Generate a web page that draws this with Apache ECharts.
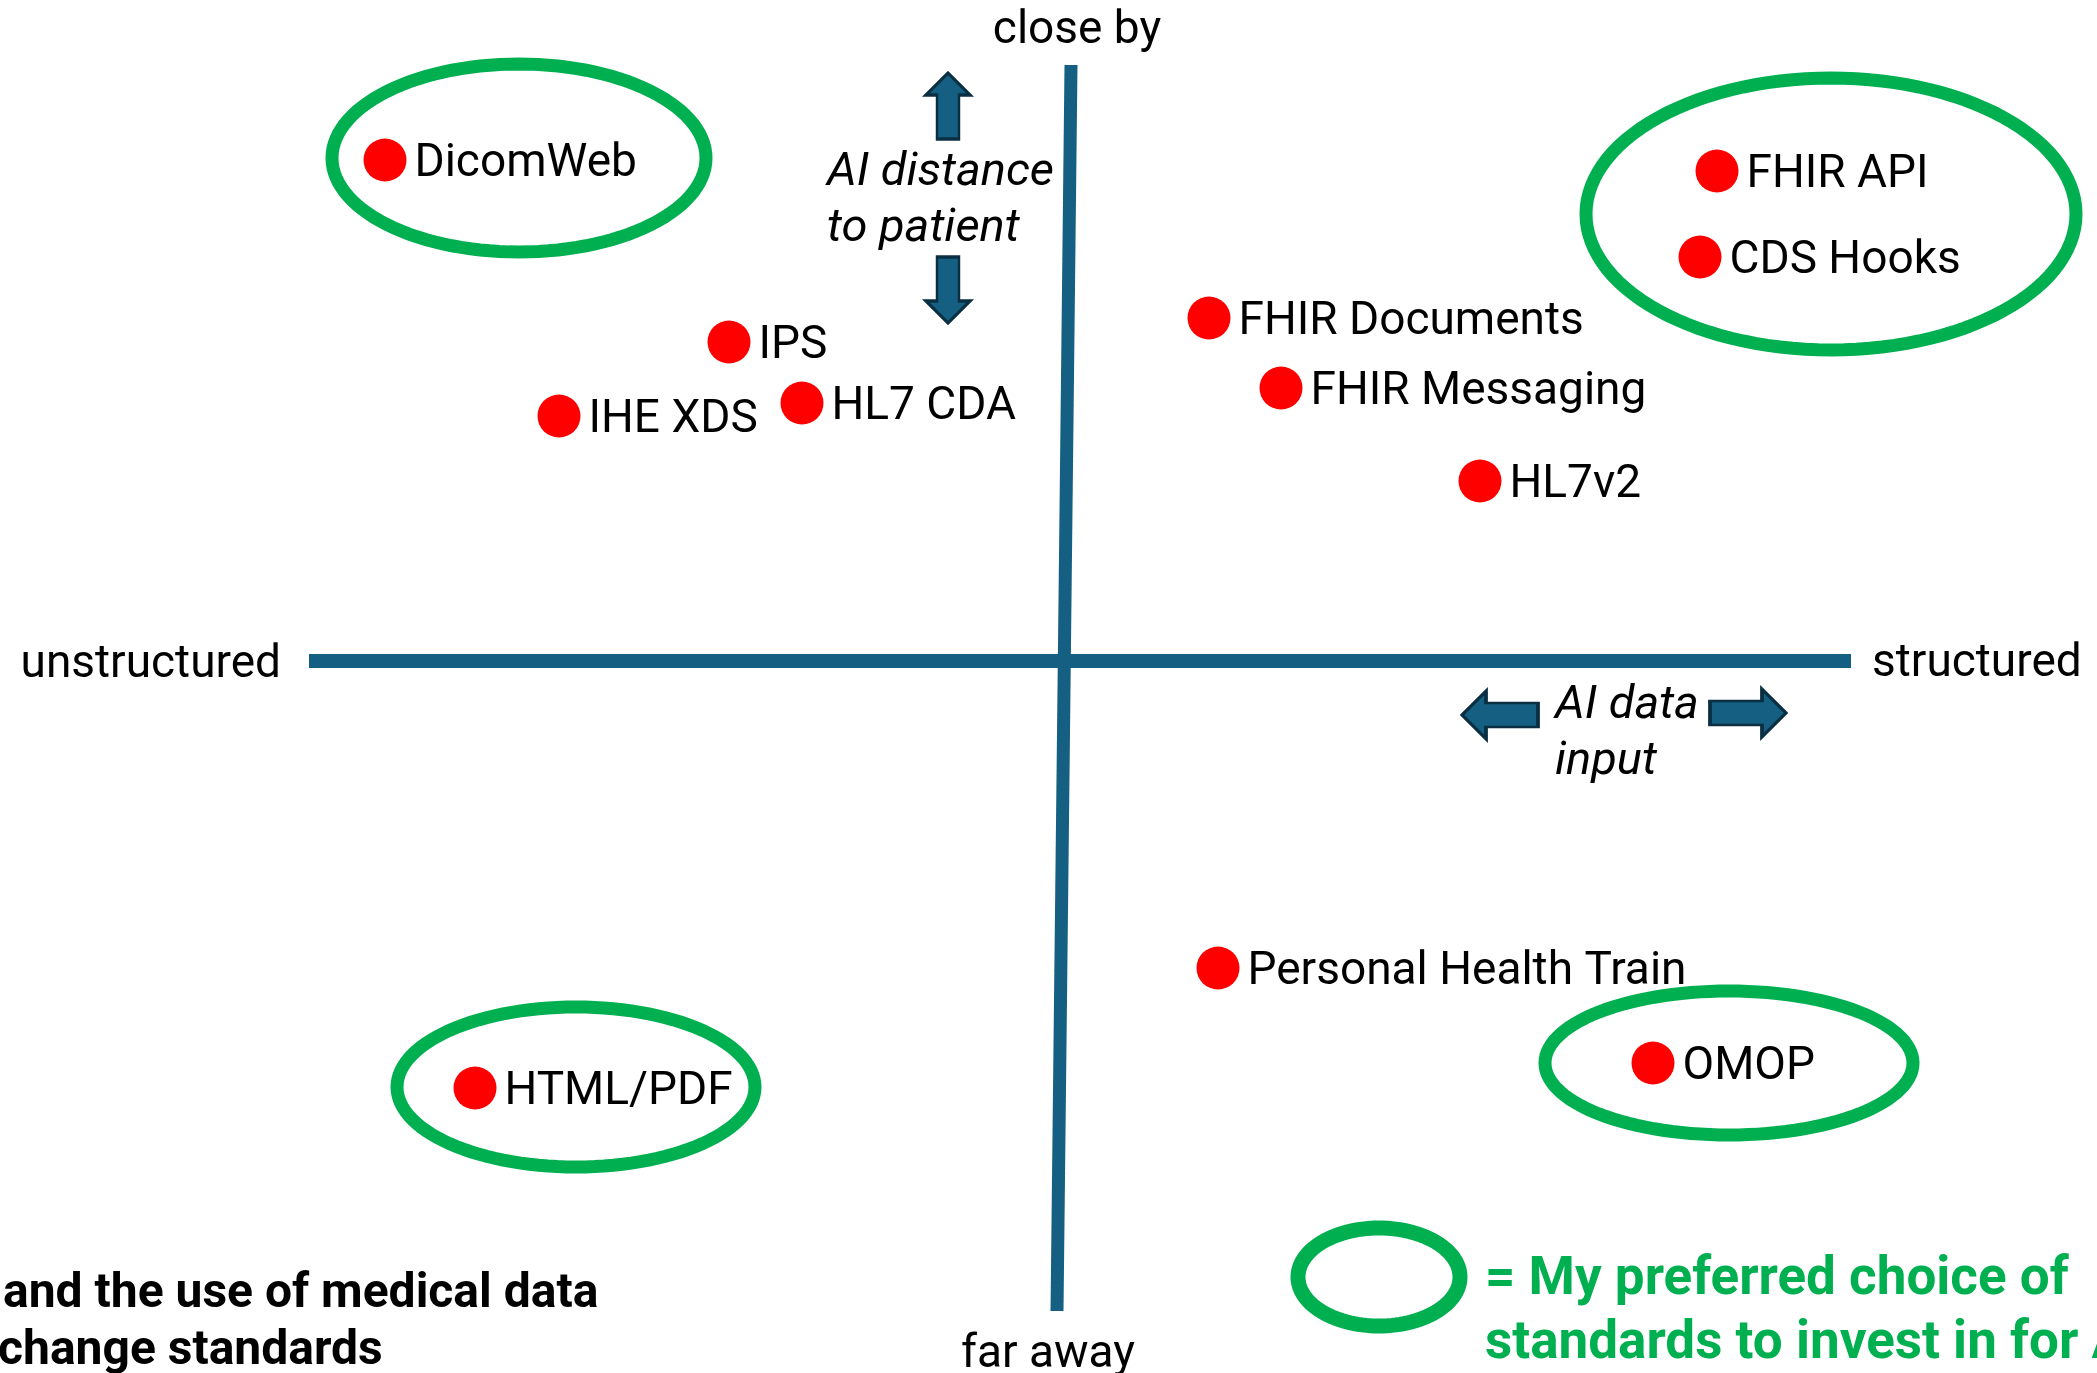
<!DOCTYPE html>
<html>
<head>
<meta charset="utf-8">
<script src="https://cdn.jsdelivr.net/npm/echarts@6/dist/echarts.min.js"></script>
<style>
  html, body { margin: 0; padding: 0; background: #fff; }
  #main { width: 2097px; height: 1373px; }
</style>
</head>
<body>
<div id="main"></div>
<script>
// 数据：以两轴交点为原点，向右为 structured，向上为 close by
var standards = [
  ['DicomWeb', -679, 501],
  ['FHIR API', 653, 490],
  ['CDS Hooks', 636, 404],
  ['FHIR Documents', 145, 343],
  ['FHIR Messaging', 217, 273],
  ['HL7v2', 416, 180],
  ['IPS', -335, 319],
  ['IHE XDS', -505, 245],
  ['HL7 CDA', -262, 258],
  ['Personal Health Train', 154, -307],
  ['OMOP', 589, -402],
  ['HTML/PDF', -589, -427]
];
// 推荐的圈：中心x, 中心y, 半径x, 半径y
var preferred = [
  [-545, 503, 187, 94],
  [767, 447, 245, 136],
  [-488, -426, 179, 80],
  [665, -402, 184, 72]
];
var legendRing = [[315, -616, 81, 49]];
// 轴线
var hAxisLine = [[-755, 0], [787, 0]];
var vAxisLine = [[7, 596], [-7, -650]];
// 轴两端文字
var axisEnds = [
  ['close by', 13, 630, 'center'],
  ['far away', -16, -694, 'center'],
  ['unstructured', -783, -4, 'right'],
  ['structured', 808, -3, 'left']
];
var hints = [
  ['AI distance\nto patient', -237, 460],
  ['AI data\ninput', 491, -73]
];
var arrows = [
  ['up', -116, 555],
  ['down', -116, 371],
  ['left', 436, -54],
  ['right', 684, -52]
];
var footnote = [
  ['and the use of medical data', -1061, -634],
  ['change standards', -1066, -691]
];
var legendNote = [['= My preferred choice of\nstandards to invest in for AI', 421, -652]];

var axisBlue = '#156082';
var green = '#00B050';
var font = 'Roboto';

var arrowShapes = {
  up: { symbol: 'path://M22,0 L44,22 L33,22 L33,66 L11,66 L11,22 L0,22 Z', size: [44, 66] },
  down: { symbol: 'path://M11,0 L33,0 L33,44 L44,44 L22,66 L0,44 L11,44 Z', size: [44, 66] },
  left: { symbol: 'path://M0,24 L24,0 L24,12 L76,12 L76,36 L24,36 L24,48 Z', size: [76, 48] },
  right: { symbol: 'path://M76,24 L52,0 L52,12 L0,12 L0,36 L52,36 L52,48 Z', size: [76, 48] }
};

function ringRender(lineWidth) {
  return function (params, api) {
    var c = api.coord([api.value(0), api.value(1)]);
    var s = api.size([api.value(2), api.value(3)]);
    var pts = [];
    for (var i = 0; i < 120; i++) {
      var a = i / 120 * Math.PI * 2;
      pts.push([c[0] + s[0] * Math.cos(a), c[1] + s[1] * Math.sin(a)]);
    }
    return {
      type: 'polygon',
      shape: { points: pts },
      style: { fill: 'none', stroke: green, lineWidth: lineWidth }
    };
  };
}

function textSeries(list, style) {
  return {
    type: 'scatter',
    clip: false,
    silent: true,
    symbolSize: 1,
    itemStyle: { color: 'rgba(0,0,0,0)', opacity: 1 },
    data: list.map(function (t) {
      return {
        value: [t[1], t[2]],
        label: { formatter: t[0], align: t[3] || 'left' }
      };
    }),
    label: Object.assign({
      show: true,
      position: 'inside',
      verticalAlign: 'middle',
      fontFamily: font,
      color: '#000',
      textBorderWidth: 0
    }, style),
    z: 5
  };
}

var myChart = echarts.init(document.getElementById('main'));
var options = {
  backgroundColor: '#fff',
  animation: false,
  grid: { left: 0, right: 0, top: 0, bottom: 0 },
  xAxis: { type: 'value', min: -1064, max: 1033, show: false },
  yAxis: { type: 'value', min: -712, max: 661, show: false },
  series: [
    {
      type: 'line',
      data: vAxisLine,
      symbol: 'none',
      lineStyle: { color: axisBlue, width: 13, cap: 'butt' },
      silent: true,
      z: 1
    },
    {
      type: 'line',
      data: hAxisLine,
      symbol: 'none',
      lineStyle: { color: axisBlue, width: 14, cap: 'butt' },
      silent: true,
      z: 1
    },
    {
      type: 'custom',
      data: preferred,
      clip: false,
      renderItem: ringRender(13),
      z: 2
    },
    {
      type: 'custom',
      data: legendRing,
      clip: false,
      renderItem: ringRender(15),
      z: 2
    },
    {
      type: 'scatter',
      clip: false,
      silent: true,
      data: arrows.map(function (a) {
        var shp = arrowShapes[a[0]];
        return { value: [a[1], a[2]], symbol: shp.symbol, symbolSize: shp.size };
      }),
      itemStyle: { color: axisBlue, borderColor: '#0B2F42', borderWidth: 3, opacity: 1 },
      z: 3
    },
    {
      type: 'scatter',
      clip: false,
      symbolSize: 43,
      itemStyle: { color: '#FF0000', opacity: 1 },
      data: standards.map(function (d) {
        return { name: d[0], value: [d[1], d[2]] };
      }),
      label: {
        show: true,
        position: 'right',
        distance: 8,
        offset: [0, 4],
        formatter: '{b}',
        fontFamily: font,
        fontSize: 46,
        color: '#000'
      },
      z: 4
    },
    textSeries(axisEnds, { fontSize: 46 }),
    textSeries(hints, { fontSize: 47, fontStyle: 'italic', lineHeight: 56 }),
    textSeries(footnote, { fontSize: 48, fontWeight: 'bold' }),
    textSeries(legendNote, { fontSize: 53, fontWeight: 'bold', color: green, lineHeight: 64 })
  ]
};
myChart.setOption(options);
</script>
</body>
</html>
